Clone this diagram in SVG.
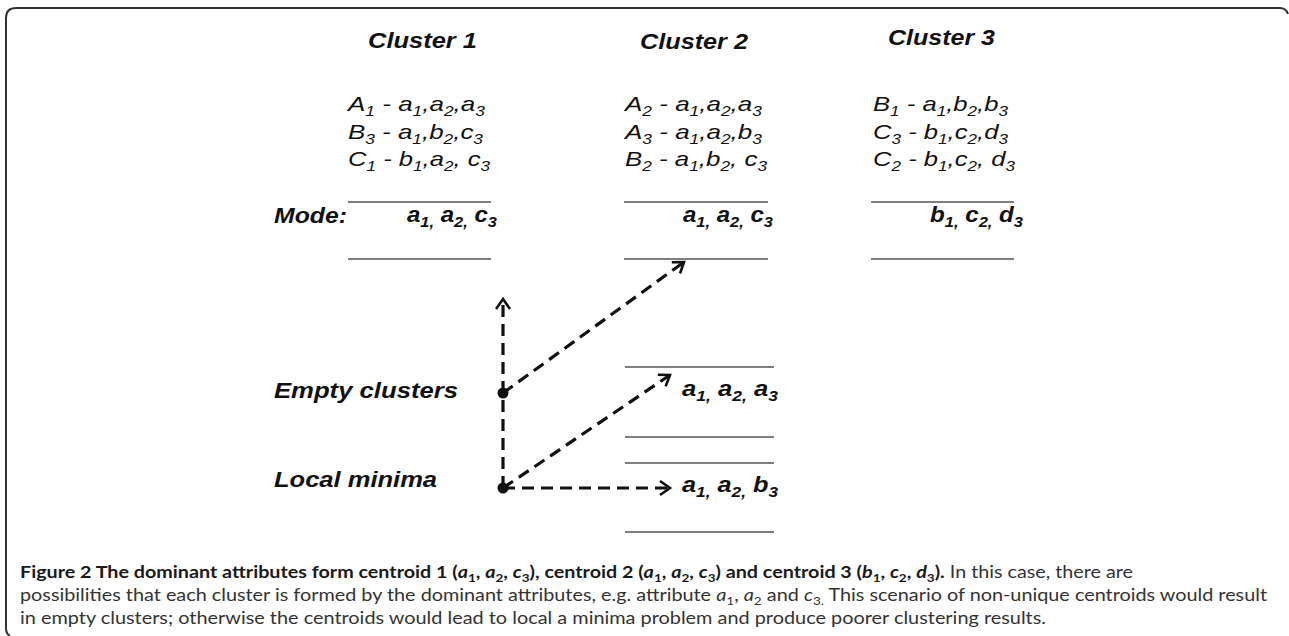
<svg xmlns="http://www.w3.org/2000/svg" width="1289" height="636" viewBox="0 0 1289 636">
<style>
  .title{font-family:"Liberation Sans",Arial,sans-serif;font-weight:bold;font-style:italic;font-size:22px;fill:#111}
  .row{font-family:"Liberation Sans",Arial,sans-serif;font-style:italic;font-size:21px;fill:#111}
  .bold{font-family:"Liberation Sans",Arial,sans-serif;font-weight:bold;font-style:italic;font-size:22px;fill:#111}
  .s{font-size:14px}
  .bs{font-size:15px}
  .rule{stroke:#555;stroke-width:1.5;fill:none}
  .conn{stroke:#111;stroke-width:3.2;stroke-dasharray:12 7;fill:none}
  .cap{font-family:Lato,"Open Sans",sans-serif;font-size:17.5px;fill:#333}
  .capb{font-weight:bold;fill:#1a1a1a}
  .ci{font-style:italic}
  .cs{font-size:12px}
</style>
<defs>
  <marker id="chev" markerUnits="userSpaceOnUse" markerWidth="16" markerHeight="18" refX="12" refY="8" orient="auto">
    <path d="M2,1 L12,8 L2,15" fill="none" stroke="#111" stroke-width="2.6"/>
  </marker>
</defs>

<path id="frame" d="M10,636 Q6,634 6,628 L6,18 Q6,8 16,8 L1280,8 Q1286,8 1288,14" fill="none" stroke="#333" stroke-width="2"/>

<g id="cluster1">
  <text class="title" x="368" y="48" textLength="109" lengthAdjust="spacingAndGlyphs">Cluster 1</text>
  <text class="row" x="348" y="111" textLength="137" lengthAdjust="spacingAndGlyphs">A<tspan class="s" dy="5">1</tspan><tspan dy="-5"> - a</tspan><tspan class="s" dy="5">1</tspan><tspan dy="-5">,a</tspan><tspan class="s" dy="5">2</tspan><tspan dy="-5">,a</tspan><tspan class="s" dy="5">3</tspan></text>
  <text class="row" x="348" y="139" textLength="135" lengthAdjust="spacingAndGlyphs">B<tspan class="s" dy="5">3</tspan><tspan dy="-5"> - a</tspan><tspan class="s" dy="5">1</tspan><tspan dy="-5">,b</tspan><tspan class="s" dy="5">2</tspan><tspan dy="-5">,c</tspan><tspan class="s" dy="5">3</tspan></text>
  <text class="row" x="348" y="166" textLength="142" lengthAdjust="spacingAndGlyphs">C<tspan class="s" dy="5">1</tspan><tspan dy="-5"> - b</tspan><tspan class="s" dy="5">1</tspan><tspan dy="-5">,a</tspan><tspan class="s" dy="5">2</tspan><tspan dy="-5">, c</tspan><tspan class="s" dy="5">3</tspan></text>
  <line class="rule" x1="348" y1="202" x2="491" y2="202"/>
  <text class="bold" x="407" y="222" textLength="90" lengthAdjust="spacingAndGlyphs">a<tspan class="bs" dy="5">1,</tspan><tspan dy="-5"> a</tspan><tspan class="bs" dy="5">2,</tspan><tspan dy="-5"> c</tspan><tspan class="bs" dy="5">3</tspan></text>
  <line class="rule" x1="348" y1="259" x2="491" y2="259"/>
</g>

<g id="cluster2">
  <text class="title" x="640" y="49" textLength="108" lengthAdjust="spacingAndGlyphs">Cluster 2</text>
  <text class="row" x="625" y="111" textLength="137" lengthAdjust="spacingAndGlyphs">A<tspan class="s" dy="5">2</tspan><tspan dy="-5"> - a</tspan><tspan class="s" dy="5">1</tspan><tspan dy="-5">,a</tspan><tspan class="s" dy="5">2</tspan><tspan dy="-5">,a</tspan><tspan class="s" dy="5">3</tspan></text>
  <text class="row" x="625" y="139" textLength="137" lengthAdjust="spacingAndGlyphs">A<tspan class="s" dy="5">3</tspan><tspan dy="-5"> - a</tspan><tspan class="s" dy="5">1</tspan><tspan dy="-5">,a</tspan><tspan class="s" dy="5">2</tspan><tspan dy="-5">,b</tspan><tspan class="s" dy="5">3</tspan></text>
  <text class="row" x="625" y="166" textLength="142" lengthAdjust="spacingAndGlyphs">B<tspan class="s" dy="5">2</tspan><tspan dy="-5"> - a</tspan><tspan class="s" dy="5">1</tspan><tspan dy="-5">,b</tspan><tspan class="s" dy="5">2</tspan><tspan dy="-5">, c</tspan><tspan class="s" dy="5">3</tspan></text>
  <line class="rule" x1="624" y1="202" x2="768" y2="202"/>
  <text class="bold" x="683" y="222" textLength="90" lengthAdjust="spacingAndGlyphs">a<tspan class="bs" dy="5">1,</tspan><tspan dy="-5"> a</tspan><tspan class="bs" dy="5">2,</tspan><tspan dy="-5"> c</tspan><tspan class="bs" dy="5">3</tspan></text>
  <line class="rule" x1="624" y1="259" x2="768" y2="259"/>
</g>

<g id="cluster3">
  <text class="title" x="888" y="45" textLength="107" lengthAdjust="spacingAndGlyphs">Cluster 3</text>
  <text class="row" x="873" y="111" textLength="135" lengthAdjust="spacingAndGlyphs">B<tspan class="s" dy="5">1</tspan><tspan dy="-5"> - a</tspan><tspan class="s" dy="5">1</tspan><tspan dy="-5">,b</tspan><tspan class="s" dy="5">2</tspan><tspan dy="-5">,b</tspan><tspan class="s" dy="5">3</tspan></text>
  <text class="row" x="873" y="139" textLength="135" lengthAdjust="spacingAndGlyphs">C<tspan class="s" dy="5">3</tspan><tspan dy="-5"> - b</tspan><tspan class="s" dy="5">1</tspan><tspan dy="-5">,c</tspan><tspan class="s" dy="5">2</tspan><tspan dy="-5">,d</tspan><tspan class="s" dy="5">3</tspan></text>
  <text class="row" x="873" y="166" textLength="142" lengthAdjust="spacingAndGlyphs">C<tspan class="s" dy="5">2</tspan><tspan dy="-5"> - b</tspan><tspan class="s" dy="5">1</tspan><tspan dy="-5">,c</tspan><tspan class="s" dy="5">2</tspan><tspan dy="-5">, d</tspan><tspan class="s" dy="5">3</tspan></text>
  <line class="rule" x1="871" y1="202" x2="1014" y2="202"/>
  <text class="bold" x="930" y="222" textLength="93" lengthAdjust="spacingAndGlyphs">b<tspan class="bs" dy="5">1,</tspan><tspan dy="-5"> c</tspan><tspan class="bs" dy="5">2,</tspan><tspan dy="-5"> d</tspan><tspan class="bs" dy="5">3</tspan></text>
  <line class="rule" x1="871" y1="259" x2="1014" y2="259"/>
</g>

<g id="mode-label">
  <text class="bold" x="274" y="223" textLength="73" lengthAdjust="spacingAndGlyphs">Mode:</text>
</g>

<g id="empty-clusters">
  <text class="bold" x="274" y="398" textLength="184" lengthAdjust="spacingAndGlyphs">Empty clusters</text>
  <circle cx="503" cy="393" r="5.5" fill="#111"/>
</g>

<g id="local-minima">
  <text class="bold" x="274" y="487" textLength="163" lengthAdjust="spacingAndGlyphs">Local minima</text>
  <circle cx="503" cy="488" r="5.5" fill="#111"/>
</g>

<g id="alt-a1a2a3">
  <line class="rule" x1="625" y1="367" x2="774" y2="367"/>
  <text class="bold" x="682" y="396" textLength="96" lengthAdjust="spacingAndGlyphs">a<tspan class="bs" dy="5">1,</tspan><tspan dy="-5"> a</tspan><tspan class="bs" dy="5">2,</tspan><tspan dy="-5"> a</tspan><tspan class="bs" dy="5">3</tspan></text>
  <line class="rule" x1="625" y1="437" x2="774" y2="437"/>
</g>

<g id="alt-a1a2b3">
  <line class="rule" x1="625" y1="463" x2="774" y2="463"/>
  <text class="bold" x="682" y="492" textLength="96" lengthAdjust="spacingAndGlyphs">a<tspan class="bs" dy="5">1,</tspan><tspan dy="-5"> a</tspan><tspan class="bs" dy="5">2,</tspan><tspan dy="-5"> b</tspan><tspan class="bs" dy="5">3</tspan></text>
  <line class="rule" x1="625" y1="532" x2="774" y2="532"/>
</g>

<g id="connectors">
  <line class="conn" x1="503" y1="488" x2="503" y2="299" marker-end="url(#chev)"/>
  <line class="conn" x1="503" y1="393" x2="684" y2="262" marker-end="url(#chev)"/>
  <line class="conn" x1="503" y1="488" x2="670" y2="375" marker-end="url(#chev)"/>
  <line class="conn" x1="503" y1="488" x2="670" y2="488" marker-end="url(#chev)"/>
</g>

<g id="caption">
  <text class="cap" x="20" y="578" textLength="1113" lengthAdjust="spacingAndGlyphs"><tspan class="capb">Figure 2 The dominant attributes form centroid 1 (<tspan class="ci">a</tspan><tspan class="cs" dy="4">1</tspan><tspan dy="-4">, </tspan><tspan class="ci">a</tspan><tspan class="cs" dy="4">2</tspan><tspan dy="-4">, </tspan><tspan class="ci">c</tspan><tspan class="cs" dy="4">3</tspan><tspan dy="-4">), centroid 2 (</tspan><tspan class="ci">a</tspan><tspan class="cs" dy="4">1</tspan><tspan dy="-4">, </tspan><tspan class="ci">a</tspan><tspan class="cs" dy="4">2</tspan><tspan dy="-4">, </tspan><tspan class="ci">c</tspan><tspan class="cs" dy="4">3</tspan><tspan dy="-4">) and centroid 3 (</tspan><tspan class="ci">b</tspan><tspan class="cs" dy="4">1</tspan><tspan dy="-4">, </tspan><tspan class="ci">c</tspan><tspan class="cs" dy="4">2</tspan><tspan dy="-4">, </tspan><tspan class="ci">d</tspan><tspan class="cs" dy="4">3</tspan><tspan dy="-4">).</tspan></tspan> In this case, there are</text>
  <text class="cap" x="20" y="601" textLength="1247" lengthAdjust="spacingAndGlyphs">possibilities that each cluster is formed by the dominant attributes, e.g. attribute <tspan class="ci">a</tspan><tspan class="cs" dy="4">1</tspan><tspan dy="-4">, </tspan><tspan class="ci">a</tspan><tspan class="cs" dy="4">2</tspan><tspan dy="-4"> and </tspan><tspan class="ci">c</tspan><tspan class="cs" dy="4">3.</tspan><tspan dy="-4"> This scenario of non-unique centroids would result</tspan></text>
  <text class="cap" x="20" y="624" textLength="1026" lengthAdjust="spacingAndGlyphs">in empty clusters; otherwise the centroids would lead to local a minima problem and produce poorer clustering results.</text>
</g>
</svg>
